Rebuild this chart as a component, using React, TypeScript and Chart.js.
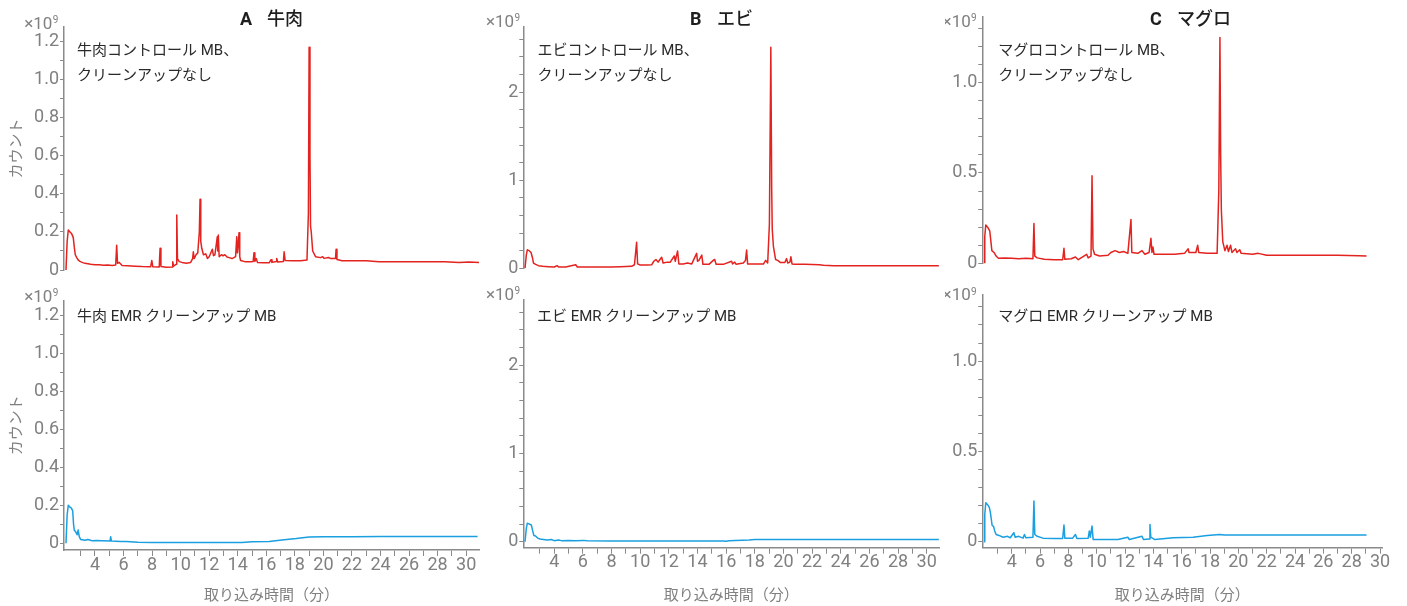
import React, { useEffect, useRef } from 'react';
import { Chart, registerables } from 'chart.js';

Chart.register(...registerables);

type Pt = [number, number];

// ---- Data (counts in units of 10^9, time in minutes) ----
const beefControlMB: Pt[] = [
  [1.97, 0], [2.05, 0.15], [2.13, 0.21], [2.25, 0.2], [2.37, 0.19], [2.48, 0.17], [2.55, 0.12], [2.62, 0.08],
  [2.72, 0.065], [2.85, 0.05], [2.95, 0.045], [3.1, 0.04], [3.3, 0.035], [3.5, 0.033], [3.7, 0.03], [4.0, 0.027],
  [4.3, 0.028], [4.6, 0.025], [4.9, 0.026], [5.2, 0.024], [5.45, 0.026], [5.52, 0.13], [5.58, 0.035], [5.7, 0.04],
  [5.9, 0.024], [6.3, 0.022], [6.8, 0.02], [7.3, 0.018], [7.9, 0.017], [7.98, 0.05], [8.05, 0.017], [8.5, 0.016],
  [8.56, 0.114], [8.62, 0.018], [9.0, 0.015], [9.4, 0.016], [9.45, 0.044], [9.5, 0.02], [9.68, 0.03], [9.73, 0.289],
  [9.78, 0.06], [9.9, 0.044], [10.1, 0.04], [10.4, 0.036], [10.7, 0.04], [10.84, 0.06], [10.89, 0.096], [10.95, 0.06],
  [11.08, 0.08], [11.2, 0.09], [11.31, 0.2], [11.36, 0.372], [11.41, 0.15], [11.48, 0.114], [11.6, 0.08], [11.76, 0.085],
  [11.88, 0.061], [12.0, 0.07], [12.22, 0.109], [12.3, 0.075], [12.4, 0.08], [12.57, 0.175], [12.6, 0.1], [12.64, 0.184],
  [12.7, 0.07], [12.85, 0.08], [12.97, 0.075], [13.1, 0.08], [13.25, 0.068], [13.4, 0.065], [13.6, 0.06], [13.85, 0.07],
  [13.93, 0.175], [13.98, 0.09], [14.05, 0.15], [14.09, 0.196], [14.14, 0.07], [14.2, 0.05], [14.5, 0.044], [14.9, 0.044],
  [15.08, 0.045], [15.14, 0.091], [15.2, 0.045], [15.3, 0.06], [15.38, 0.04], [15.8, 0.038], [16.2, 0.038], [16.33, 0.054],
  [16.4, 0.04], [16.7, 0.045], [16.73, 0.061], [16.8, 0.042], [17.2, 0.045], [17.25, 0.096], [17.32, 0.05], [17.8, 0.049],
  [18.4, 0.049], [18.85, 0.052], [18.95, 0.3], [19.0, 1.17], [19.06, 0.6], [19.1, 0.23], [19.15, 0.2], [19.25, 0.1],
  [19.45, 0.07], [19.8, 0.065], [19.95, 0.07], [20.05, 0.061], [20.35, 0.066], [20.5, 0.061], [20.85, 0.061], [20.89, 0.109],
  [20.95, 0.055], [21.3, 0.049], [22.3, 0.049], [23.0, 0.049], [23.9, 0.044], [25.0, 0.044], [27.0, 0.044], [28.5, 0.044],
  [29.5, 0.04], [30.2, 0.042], [30.9, 0.04],
];

const beefEmrMB: Pt[] = [
  [1.97, 0], [2.05, 0.15], [2.13, 0.2], [2.25, 0.19], [2.35, 0.185], [2.44, 0.17], [2.5, 0.1], [2.55, 0.07],
  [2.65, 0.06], [2.75, 0.045], [2.82, 0.07], [2.9, 0.035], [3.0, 0.02], [3.3, 0.016], [3.5, 0.02], [3.8, 0.014],
  [4.1, 0.015], [4.5, 0.014], [5.05, 0.012], [5.1, 0.035], [5.15, 0.012], [5.8, 0.01], [6.2, 0.01], [7.0, 0.006],
  [8.0, 0.004], [9.0, 0.004], [10.0, 0.004], [11.0, 0.004], [12.0, 0.004], [13.0, 0.004], [14.3, 0.004], [15.0, 0.008],
  [16.2, 0.01], [17.1, 0.018], [18.1, 0.025], [19.0, 0.033], [20.0, 0.035], [22.0, 0.035], [24.0, 0.036], [26.0, 0.036],
  [28.0, 0.036], [30.0, 0.036], [30.8, 0.036],
];

const shrimpControlMB: Pt[] = [
  [1.96, 0], [2.05, 0.15], [2.12, 0.21], [2.25, 0.2], [2.38, 0.18], [2.48, 0.12], [2.55, 0.06], [2.7, 0.045],
  [2.9, 0.03], [3.2, 0.022], [3.6, 0.018], [4.0, 0.015], [4.2, 0.03], [4.3, 0.015], [4.8, 0.014], [5.5, 0.04],
  [5.6, 0.016], [6.0, 0.014], [7.0, 0.015], [8.0, 0.016], [8.6, 0.018], [9.4, 0.022], [9.6, 0.04], [9.75, 0.295],
  [9.82, 0.05], [10.0, 0.037], [10.5, 0.037], [10.8, 0.04], [10.95, 0.08], [11.1, 0.1], [11.25, 0.07], [11.38, 0.1],
  [11.5, 0.125], [11.6, 0.06], [11.9, 0.07], [12.1, 0.07], [12.38, 0.14], [12.45, 0.08], [12.61, 0.197], [12.7, 0.05],
  [13.0, 0.05], [13.3, 0.06], [13.6, 0.05], [13.94, 0.17], [14.0, 0.08], [14.1, 0.09], [14.3, 0.15], [14.38, 0.045],
  [14.8, 0.045], [15.1, 0.09], [15.2, 0.1], [15.3, 0.045], [15.8, 0.045], [16.38, 0.08], [16.45, 0.05], [16.6, 0.07],
  [16.7, 0.045], [17.2, 0.06], [17.35, 0.09], [17.43, 0.208], [17.5, 0.05], [18.0, 0.048], [18.6, 0.048], [18.76, 0.09],
  [18.9, 0.06], [19.02, 0.5], [19.12, 2.51], [19.18, 0.9], [19.22, 0.44], [19.3, 0.25], [19.45, 0.1], [19.6, 0.09],
  [19.8, 0.065], [20.1, 0.065], [20.22, 0.11], [20.3, 0.06], [20.45, 0.07], [20.52, 0.13], [20.6, 0.05], [20.8, 0.045],
  [21.5, 0.045], [22.5, 0.04], [22.8, 0.035], [23.5, 0.03], [25.0, 0.03], [27.0, 0.03], [29.0, 0.03], [30.85, 0.03],
];

const shrimpEmrMB: Pt[] = [
  [1.96, 0], [2.05, 0.15], [2.12, 0.21], [2.25, 0.2], [2.4, 0.19], [2.5, 0.12], [2.58, 0.07], [2.7, 0.065],
  [2.85, 0.04], [3.0, 0.03], [3.5, 0.02], [3.8, 0.025], [4.0, 0.012], [4.3, 0.02], [4.5, 0.012], [5.0, 0.015],
  [5.5, 0.012], [6.0, 0.015], [6.3, 0.01], [8.0, 0.008], [10.0, 0.008], [12.0, 0.008], [14.0, 0.008], [15.8, 0.008],
  [16.0, 0.004], [16.2, 0.01], [17.6, 0.02], [18.0, 0.025], [20.0, 0.025], [24.0, 0.025], [28.0, 0.025], [30.85, 0.025],
];

const tunaControlMB: Pt[] = [
  [2.05, 0], [2.1, 0.15], [2.17, 0.212], [2.3, 0.2], [2.45, 0.18], [2.52, 0.13], [2.6, 0.07], [2.75, 0.06],
  [2.9, 0.04], [3.06, 0.028], [3.5, 0.03], [4.0, 0.028], [4.5, 0.025], [5.0, 0.028], [5.5, 0.025], [5.57, 0.22],
  [5.63, 0.04], [5.8, 0.03], [6.3, 0.022], [7.0, 0.02], [7.6, 0.02], [7.69, 0.083], [7.75, 0.022], [8.2, 0.025],
  [8.5, 0.035], [8.7, 0.02], [9.29, 0.05], [9.4, 0.03], [9.6, 0.04], [9.67, 0.485], [9.74, 0.08], [9.85, 0.05],
  [10.2, 0.04], [10.8, 0.045], [11.0, 0.06], [11.3, 0.07], [11.6, 0.06], [11.9, 0.065], [12.2, 0.055], [12.42, 0.243],
  [12.48, 0.06], [12.9, 0.055], [13.2, 0.07], [13.4, 0.05], [13.7, 0.06], [13.83, 0.138], [13.9, 0.06], [13.97, 0.09],
  [14.05, 0.05], [14.8, 0.05], [15.5, 0.05], [16.2, 0.055], [16.46, 0.08], [16.52, 0.06], [17.0, 0.06], [17.13, 0.1],
  [17.2, 0.06], [17.8, 0.055], [18.5, 0.055], [18.62, 0.4], [18.7, 1.25], [18.75, 0.6], [18.8, 0.295], [18.9, 0.12],
  [19.05, 0.07], [19.2, 0.1], [19.3, 0.065], [19.45, 0.1], [19.55, 0.06], [19.8, 0.08], [19.9, 0.06], [20.1, 0.075],
  [20.2, 0.055], [21.0, 0.05], [21.4, 0.055], [22.0, 0.045], [23.5, 0.045], [25.0, 0.045], [27.0, 0.045], [28.5, 0.042],
  [29.05, 0.04],
];

const tunaEmrMB: Pt[] = [
  [2.05, 0], [2.1, 0.15], [2.17, 0.216], [2.3, 0.205], [2.42, 0.19], [2.5, 0.16], [2.62, 0.09], [2.72, 0.085],
  [2.8, 0.06], [2.9, 0.04], [3.1, 0.035], [3.4, 0.025], [3.7, 0.03], [3.9, 0.022], [4.15, 0.05], [4.25, 0.025],
  [4.5, 0.03], [4.8, 0.02], [4.9, 0.04], [5.0, 0.022], [5.5, 0.025], [5.57, 0.225], [5.63, 0.04], [5.8, 0.03],
  [6.2, 0.02], [7.0, 0.018], [7.6, 0.018], [7.69, 0.092], [7.75, 0.02], [8.3, 0.02], [8.5, 0.04], [8.6, 0.018],
  [9.4, 0.02], [9.48, 0.06], [9.55, 0.025], [9.67, 0.087], [9.75, 0.013], [10.5, 0.012], [11.5, 0.012], [12.2, 0.025],
  [12.3, 0.012], [13.2, 0.03], [13.3, 0.012], [13.7, 0.015], [13.76, 0.096], [13.82, 0.025], [14.1, 0.012], [15.4, 0.022],
  [16.8, 0.025], [17.8, 0.035], [18.7, 0.04], [19.0, 0.037], [22.0, 0.037], [25.0, 0.037], [28.0, 0.037], [29.05, 0.037],
];

// ---- Ticks ----
const timeTicks = [3, 4, 5, 6, 7, 8, 9, 10, 11, 12, 13, 14, 15, 16, 17, 18, 19, 20, 21, 22, 23, 24, 25, 26, 27, 28, 29, 30];
const timeLabels = [4, 6, 8, 10, 12, 14, 16, 18, 20, 22, 24, 26, 28, 30];

const beefCountTicks = [0, 0.1, 0.2, 0.3, 0.4, 0.5, 0.6, 0.7, 0.8, 0.9, 1.0, 1.1, 1.2];
const beefCountLabels = ['0', '0.2', '0.4', '0.6', '0.8', '1.0', '1.2'];
const beefCountLabelValues = [0, 0.2, 0.4, 0.6, 0.8, 1.0, 1.2];

const shrimpCountTicks = [0, 0.2, 0.4, 0.6, 0.8, 1.0, 1.2, 1.4, 1.6, 1.8, 2.0, 2.2, 2.4, 2.6];
const shrimpCountLabels = ['0', '1', '2'];
const shrimpCountLabelValues = [0, 1, 2];

const tunaCountTicks = [0, 0.1, 0.2, 0.3, 0.4, 0.5, 0.6, 0.7, 0.8, 0.9, 1.0, 1.1, 1.2, 1.3];
const tunaCountLabels = ['0', '0.5', '1.0'];
const tunaCountLabelValues = [0, 0.5, 1.0];

// ---- Styles ----
const AXIS = '#8a8a8a';
const TICK = '#808080';
const RED = '#e3231f';
const BLUE = '#1a9fe0';
const TEXT = '#2a2a2a';
const CJK = 'Roboto, "Noto Sans CJK JP", sans-serif';

interface Panel {
  left: number; top: number; width: number; height: number;
  data: Pt[]; color: string;
  xMin: number; xMax: number; yMin: number; yMax: number;
  yTicks: number[]; yLabelValues: number[]; yLabels: string[];
  showX: boolean; showYTitle: boolean;
  yW: number; xH: number; padTop: number; padRight: number; padBottom: number;
  title?: { letter: string; name: string; x: number; baseline: number };
  notes: string[]; noteX: number; noteBaseline: number;
  expRight: number; expBaseline: number;
}

const panels: Panel[] = [
  {
    left: 0, top: 0, width: 485, height: 280, data: beefControlMB, color: RED,
    xMin: 1.83, xMax: 30.9, yMin: 0, yMax: 1.277,
    yTicks: beefCountTicks, yLabelValues: beefCountLabelValues, yLabels: beefCountLabels,
    showX: false, showYTitle: true, yW: 64, xH: 0, padTop: 27, padRight: 6, padBottom: 10,
    title: { letter: 'A', name: '牛肉', x: 240, baseline: 25 },
    notes: ['牛肉コントロール MB、', 'クリーンアップなし'], noteX: 77, noteBaseline: 55,
    expRight: 58.3, expBaseline: 28.5,
  },
  {
    left: 485, top: 0, width: 460, height: 280, data: shrimpControlMB, color: RED,
    xMin: 1.84, xMax: 30.86, yMin: 0, yMax: 2.74,
    yTicks: shrimpCountTicks, yLabelValues: shrimpCountLabelValues, yLabels: shrimpCountLabels,
    showX: false, showYTitle: false, yW: 38.3, xH: 0, padTop: 27, padRight: 6, padBottom: 11.7,
    title: { letter: 'B', name: 'エビ', x: 205, baseline: 25 },
    notes: ['エビコントロール MB、', 'クリーンアップなし'], noteX: 52.5, noteBaseline: 55,
    expRight: 35, expBaseline: 26.5,
  },
  {
    left: 945, top: 0, width: 462, height: 280, data: tunaControlMB, color: RED,
    xMin: 1.925, xMax: 30.14, yMin: 0, yMax: 1.366,
    yTicks: tunaCountTicks, yLabelValues: tunaCountLabelValues, yLabels: tunaCountLabels,
    showX: false, showYTitle: false, yW: 37.3, xH: 0, padTop: 16.5, padRight: 25, padBottom: 16.7,
    title: { letter: 'C', name: 'マグロ', x: 205, baseline: 25 },
    notes: ['マグロコントロール MB、', 'クリーンアップなし'], noteX: 53.3, noteBaseline: 55,
    expRight: 31.7, expBaseline: 26.5,
  },
  {
    left: 0, top: 280, width: 485, height: 326, data: beefEmrMB, color: BLUE,
    xMin: 1.83, xMax: 30.9, yMin: -0.035, yMax: 1.277,
    yTicks: beefCountTicks, yLabelValues: beefCountLabelValues, yLabels: beefCountLabels,
    showX: true, showYTitle: true, yW: 64, xH: 56, padTop: 20.5, padRight: 6, padBottom: 0,
    notes: ['牛肉 EMR クリーンアップ MB'], noteX: 77, noteBaseline: 41,
    expRight: 58.3, expBaseline: 21.5,
  },
  {
    left: 485, top: 280, width: 460, height: 326, data: shrimpEmrMB, color: BLUE,
    xMin: 1.84, xMax: 30.86, yMin: -0.068, yMax: 2.74,
    yTicks: shrimpCountTicks, yLabelValues: shrimpCountLabelValues, yLabels: shrimpCountLabels,
    showX: true, showYTitle: false, yW: 38.3, xH: 58.3, padTop: 20, padRight: 6, padBottom: 0,
    notes: ['エビ EMR クリーンアップ MB'], noteX: 52, noteBaseline: 41,
    expRight: 35, expBaseline: 19.5,
  },
  {
    left: 945, top: 280, width: 462, height: 326, data: tunaEmrMB, color: BLUE,
    xMin: 1.925, xMax: 30.14, yMin: -0.033, yMax: 1.366,
    yTicks: tunaCountTicks, yLabelValues: tunaCountLabelValues, yLabels: tunaCountLabels,
    showX: true, showYTitle: false, yW: 37.3, xH: 58.3, padTop: 15, padRight: 25, padBottom: 0,
    notes: ['マグロ EMR クリーンアップ MB'], noteX: 53.3, noteBaseline: 41,
    expRight: 31.7, expBaseline: 20,
  },
];

function makeTextPlugin(p: Panel) {
  return {
    id: 'panelText',
    afterDraw(chart: any) {
      const ctx: CanvasRenderingContext2D = chart.ctx;
      ctx.save();
      ctx.textBaseline = 'alphabetic';
      ctx.textAlign = 'left';
      if (p.title) {
        ctx.fillStyle = '#1e1e1e';
        ctx.font = 'bold 18px Roboto, sans-serif';
        ctx.fillText(p.title.letter, p.title.x, p.title.baseline);
        ctx.font = '500 18px ' + CJK;
        ctx.fillText(p.title.name, p.title.x + 27, p.title.baseline);
      }
      ctx.fillStyle = TEXT;
      ctx.font = '15px ' + CJK;
      p.notes.forEach((t, i) => ctx.fillText(t, p.noteX, p.noteBaseline + i * 25));
      // exponent label
      ctx.fillStyle = TICK;
      ctx.font = '10px Roboto, sans-serif';
      const w9 = ctx.measureText('9').width;
      ctx.fillText('9', p.expRight - w9, p.expBaseline - 5.5);
      ctx.font = '17px Roboto, sans-serif';
      ctx.textAlign = 'right';
      ctx.fillText('×10', p.expRight - w9 - 0.3, p.expBaseline);
      ctx.restore();
    },
  };
}

function near(list: number[], v: number) {
  return list.findIndex((l) => Math.abs(l - v) < 1e-6);
}

function PanelChart({ p }: { p: Panel }) {
  const ref = useRef<HTMLCanvasElement | null>(null);
  useEffect(() => {
    if (!ref.current) return;
    const chart = new Chart(ref.current, {
      type: 'line',
      data: {
        datasets: [
          {
            data: p.data.map(([x, y]) => ({ x, y })),
            borderColor: p.color,
            borderWidth: 1.5,
            pointRadius: 0,
            tension: 0,
            fill: false,
            borderJoinStyle: 'round',
          } as any,
        ],
      },
      options: {
        animation: false,
        responsive: false,
        maintainAspectRatio: false,
        events: [],
        layout: { padding: { left: 0, top: p.padTop, right: p.padRight, bottom: p.padBottom } },
        plugins: { legend: { display: false }, tooltip: { enabled: false }, title: { display: false } },
        scales: {
          x: {
            type: 'linear',
            display: p.showX,
            min: p.xMin,
            max: p.xMax,
            afterBuildTicks: (s: any) => {
              s.ticks = timeTicks.map((v) => ({ value: v }));
            },
            afterFit: (s: any) => {
              s.height = p.xH;
            },
            ticks: {
              autoSkip: false,
              maxRotation: 0,
              minRotation: 0,
              padding: 0,
              color: TICK,
              font: { family: 'Roboto', size: 18, lineHeight: 1 },
              callback: (v: any) => (near(timeLabels, Number(v)) >= 0 ? String(v) : ''),
            },
            grid: { drawOnChartArea: false, drawTicks: true, tickLength: 6, color: AXIS, lineWidth: 1 },
            border: { display: true, color: AXIS, width: 1.5 },
            title: {
              display: true,
              text: '取り込み時間（分）',
              color: TICK,
              font: { family: CJK, size: 15, lineHeight: 1.2 },
              padding: { top: 0, bottom: 0.5 },
            },
          },
          y: {
            type: 'linear',
            min: p.yMin,
            max: p.yMax,
            afterBuildTicks: (s: any) => {
              s.ticks = p.yTicks.map((v) => ({ value: v }));
            },
            afterFit: (s: any) => {
              s.width = p.yW;
            },
            ticks: {
              autoSkip: false,
              padding: 1,
              color: TICK,
              font: { family: 'Roboto', size: 18, lineHeight: 1 },
              callback: (v: any) => {
                const i = near(p.yLabelValues, Number(v));
                return i >= 0 ? p.yLabels[i] : '';
              },
            },
            grid: { drawOnChartArea: false, drawTicks: true, tickLength: 4, color: AXIS, lineWidth: 1 },
            border: { display: true, color: AXIS, width: 1.5 },
            title: {
              display: p.showYTitle,
              text: 'カウント',
              color: TICK,
              font: { family: CJK, size: 15, lineHeight: 1.2 },
              padding: { top: 8.5, bottom: 0 },
            },
          },
        },
      } as any,
      plugins: [makeTextPlugin(p)],
    });
    let alive = true;
    if ((document as any).fonts && (document as any).fonts.ready) {
      (document as any).fonts.ready.then(() => {
        if (alive) chart.update();
      });
    }
    return () => {
      alive = false;
      chart.destroy();
    };
  }, [p]);
  return (
    <canvas
      ref={ref}
      width={p.width}
      height={p.height}
      style={{ position: 'absolute', left: p.left, top: p.top, width: p.width, height: p.height }}
    />
  );
}

export default function App() {
  return (
    <div
      style={{
        position: 'absolute',
        left: 0,
        top: 0,
        width: 1407,
        height: 606,
        background: '#ffffff',
        overflow: 'hidden',
      }}
    >
      {panels.map((p, i) => (
        <PanelChart key={i} p={p} />
      ))}
    </div>
  );
}
